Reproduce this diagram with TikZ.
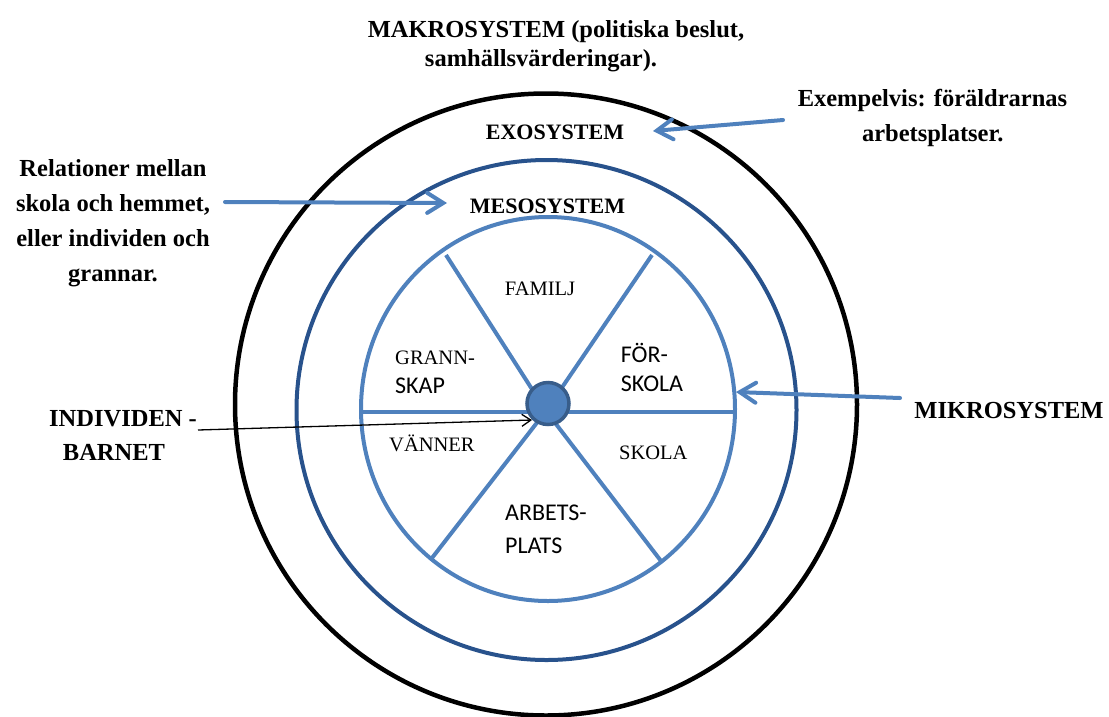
\documentclass[tikz,border=0pt]{standalone}
\usepackage{fontspec}
\setmainfont{Liberation Serif}
\newfontfamily\calibfont{Carlito}
\usetikzlibrary{arrows.meta}
\definecolor{lblue}{HTML}{4F81BD}
\definecolor{dblue}{HTML}{28528C}
\definecolor{hubedge}{HTML}{385D8A}
\begin{document}
\begin{tikzpicture}[x=1pt,y=-1pt,
  big/.style={font=\bfseries\fontsize{24.5}{29}\selectfont, anchor=base, inner sep=0pt},
  mid/.style={font=\bfseries\fontsize{22}{26}\selectfont, anchor=base, inner sep=0pt},
  tms/.style={font=\fontsize{20.5}{24}\selectfont, anchor=base west, inner sep=0pt},
  cal/.style={font=\calibfont\fontsize{24}{28}\selectfont, anchor=base west, inner sep=0pt},
  ring/.style={line width=4pt},
  spoke/.style={draw=lblue, line width=4pt},
  callout/.style={draw=lblue, line width=4pt, line cap=round,
    -{Straight Barb[length=16pt,width=20pt,line cap=round]}},
  pointer/.style={draw=black, line width=1.3pt,
    -{Straight Barb[length=9pt,width=12pt]}},
]
\useasboundingbox (0,0) rectangle (1109,716);

% rings
\draw[ring, black, line width=4.5pt] (546,404.5) circle [radius=311pt];
\draw[ring, dblue] (546.5,410) circle [radius=250pt];

% spokes
\coordinate (hubc) at (546,411);
\coordinate (sUL) at (446,255);
\coordinate (sUR) at (652,255);
\coordinate (sLL) at (432,558);
\coordinate (sLR) at (661,561);
\coordinate (sL) at (362,412);
\coordinate (sR) at (735,412);
\draw[spoke] (hubc) -- (sUL);
\draw[spoke] (hubc) -- (sUR);
\draw[spoke] (hubc) -- (sLL);
\draw[spoke] (hubc) -- (sLR);
\draw[spoke] (sL) -- (sR);
\draw[ring, lblue] (548,409) ellipse [x radius=187pt, y radius=192pt];

% hub
\node[circle, draw=hubedge, fill=lblue, line width=3.5pt, minimum size=42pt, inner sep=0pt] (hub) at (548,403.5) {};

% ring labels
\node[mid] (exo) at (555,139.3) {EXOSYSTEM};
\node[mid] (meso) at (547.5,213.3) {MESOSYSTEM};

% sector labels
\node[tms, anchor=base] (familj) at (540,295) {FAMILJ};
\node[tms] (grann1) at (395,364) {GRANN-};
\node[cal] (grann2) at (395,393.3) {SKAP};
\node[cal] (for1) at (620.7,362.7) {FÖR-};
\node[cal] (for2) at (620.7,391.7) {SKOLA};
\node[tms] (vanner) at (389,451.4) {VÄNNER};
\node[tms] (skola) at (619,459) {SKOLA};
\node[cal] (arb1) at (505,520) {ARBETS-};
\node[cal] (arb2) at (505,553) {PLATS};

% outer labels
\node[big] (makro1) at (556,37.3) {MAKROSYSTEM (politiska beslut,};
\node[big] (makro2) at (541,66.7) {samhällsvärderingar).};
\node[big] (ex1) at (932.5,106.7) {Exempelvis: föräldrarnas};
\node[big] (ex2) at (932.7,141.7) {arbetsplatser.};
\node[big] (rel1) at (113,176.7) {Relationer mellan};
\node[big] (rel2) at (113,211.7) {skola och hemmet,};
\node[big] (rel3) at (113,246.7) {eller individen och};
\node[big] (rel4) at (113,281) {grannar.};
\node[big] (ind1) at (123,426.4) {INDIVIDEN -};
\node[big] (ind2) at (114,460) {BARNET};
\node[big] (mikro) at (1009,418.3) {MIKROSYSTEM};

% callout arrows
\coordinate (exoTail) at (783,120);
\coordinate (exoTip) at (653,131);
\coordinate (mesoTail) at (225,202);
\coordinate (mesoTip) at (447,203);
\coordinate (mikroTail) at (900,398);
\coordinate (mikroTip) at (736,392);
\coordinate (indTail) at (198,430);
\coordinate (indTip) at (532,420);
\draw[callout] (exoTail) -- (exoTip);
\draw[callout] (mesoTail) -- (mesoTip);
\draw[callout] (mikroTail) -- (mikroTip);
\draw[pointer] (indTail) -- (indTip);
\end{tikzpicture}
\end{document}
